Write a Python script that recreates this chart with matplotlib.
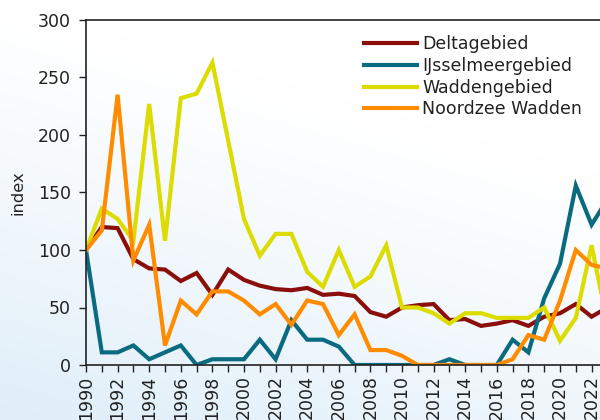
import numpy as np
import matplotlib
matplotlib.use("Agg")
import matplotlib.pyplot as plt
from matplotlib.ticker import MultipleLocator

plt.rcParams['font.family'] = ['DejaVu Sans']

years = list(range(1990, 2024))
delta = [100, 120, 119, 92, 84, 83, 73, 80, 61, 83, 74, 69, 66, 65, 67, 61, 62, 60, 46, 42,
         50, 52, 53, 39, 40, 34, 36, 39, 34, 42, 45, 53, 42, 50]
ijssel = [100, 11, 11, 17, 5, 11, 17, 0, 5, 5, 5, 22, 5, 39, 22, 22, 16, 0, 0, 0,
          0, 0, 0, 5, 0, 0, 0, 22, 11, 58, 88, 156, 122, 144]
wadden = [100, 136, 127, 108, 227, 108, 232, 236, 263, 195, 127, 95, 114, 114, 81, 68, 100, 68, 77, 104,
          50, 50, 45, 36, 45, 45, 41, 41, 41, 50, 21, 41, 104, 36]
noordzee = [100, 117, 235, 91, 122, 17, 56, 44, 64, 64, 56, 44, 53, 35, 56, 53, 26, 44, 13, 13,
            8, 0, 0, 0, 0, 0, 0, 5, 26, 22, 56, 100, 87, 84]

series = [("Deltagebied", delta, "#8a0f0a"),
          ("IJsselmeergebied", ijssel, "#0a6b80"),
          ("Waddengebied", wadden, "#dcdc00"),
          ("Noordzee Wadden", noordzee, "#ff8c00")]

fig = plt.figure(figsize=(6, 4.2), dpi=100)

# background gradient: light blue at bottom (left), white at top (right)
bg = fig.add_axes([0, 0, 1, 1], zorder=-10)
yy, xx = np.mgrid[0:1:200j, 0:1:200j]   # yy: 0 at top row, 1 at bottom row
t = np.clip(yy * 0.85 + (1 - xx) * 0.35 - 0.35, 0, 1)
t = t ** 1.2
c_white = np.array([1.0, 1.0, 1.0])
c_blue = np.array([0.85, 0.92, 0.97])
img = c_white[None, None, :] * (1 - t[..., None]) + c_blue[None, None, :] * t[..., None]
bg.imshow(img, origin='upper', extent=[0, 1, 0, 1], aspect='auto')
bg.axis('off')

px_per_year = 15.8
x0 = 86 / 600
width = 34 * px_per_year / 600
ax = fig.add_axes([x0, 55 / 420, width, 345 / 420])
ax.set_facecolor('none')

for name, vals, col in series:
    ax.plot(years, vals, color=col, lw=3.0, label=name, solid_joinstyle='miter')

ax.set_xlim(1990, 2024)
ax.set_ylim(0, 300)
ax.set_yticks([0, 50, 100, 150, 200, 250, 300])
ax.xaxis.set_major_locator(MultipleLocator(2))
ax.xaxis.set_minor_locator(MultipleLocator(1))
ax.tick_params(axis='both', which='both', direction='out', length=5, width=1, labelsize=12.5, colors='#222222')
ax.tick_params(axis='x', which='major', rotation=90, pad=2.5)
ax.tick_params(axis='y', pad=6)
ax.set_ylabel('index', fontsize=11.8, color='#222222', labelpad=9)
for s in ['left', 'bottom', 'top', 'right']:
    ax.spines[s].set_color('#222222')
    ax.spines[s].set_linewidth(1.2)

leg = ax.legend(loc='upper left', bbox_to_anchor=(364 / 600, 1 - 35 / 420), bbox_transform=fig.transFigure,
                frameon=False, fontsize=12.5, handlelength=3.05, handletextpad=0.3, labelspacing=0.22,
                borderaxespad=0, borderpad=0)
for line in leg.get_lines():
    line.set_linewidth(3.0)
for txt in leg.get_texts():
    txt.set_color('#222222')

fig.savefig('out.png', dpi=100)
